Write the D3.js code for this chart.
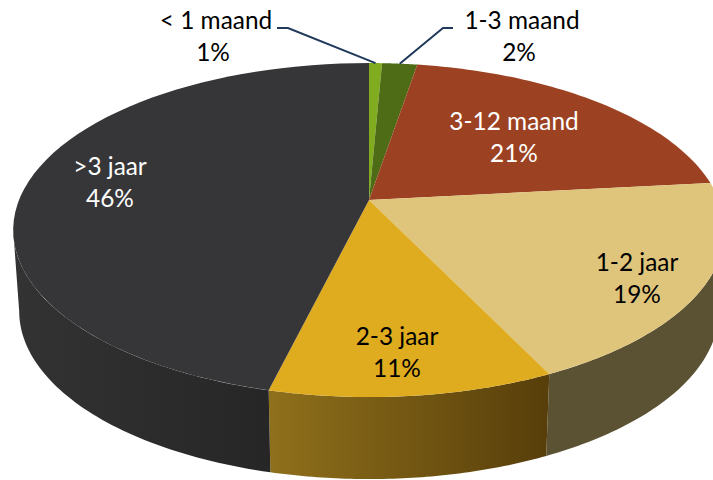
<!DOCTYPE html>
<html><head><meta charset="utf-8">
<script src="https://cdn.jsdelivr.net/npm/d3@7/dist/d3.min.js"></script>
<style>html,body{margin:0;padding:0;background:#fff;overflow:hidden}svg{display:block}</style>
</head><body><svg id="c" width="713" height="480"></svg>
<script>
const categories = ["< 1 maand","1-3 maand","3-12 maand","1-2 jaar","2-3 jaar",">3 jaar"];
const percentLabels = ["1%","2%","21%","19%","11%","46%"];
const values = [0.7,1.9,20.7,19.6,10.9,46.2];
const topColors = ["#82ac20","#4e6b15","#9c4222","#dfc57c","#dfab1f","#363638"];
const textColors = ["#000","#000","#fff","#000","#000","#fff"];
const labelCenters = [[216,21],[522,21],[514,122],[637,263],[397,337],[110,167]];

const svg = d3.select("#c");
const cx=369, cy=200, A=350, B=161.6, k=0.18;
const depthY=81, scaleBottom=350/356, midY=230;
function rim(t){const s=Math.sin(t),c=Math.cos(t),w=1+k*c;return [cx+A*s/w, cy-B*c/w];}
function low(t){const p=rim(t);return [cx+(p[0]-cx)*scaleBottom, midY+depthY+(p[1]-midY)*168/167];}
const sampled=(a,b)=>d3.range(0,61).map(i=>a+(b-a)*i/60);
const pie=d3.pie().sort(null).value(d=>d).startAngle(0).endAngle(2*Math.PI);
const arcs=pie(values);
const line=d3.line();
const thetaR=Math.PI-Math.acos(0.18), thetaL=Math.PI+Math.acos(0.18);

const defs=svg.append("defs");
function grad(id,x1,x2,c1,c2){const g=defs.append("linearGradient").attr("id",id).attr("gradientUnits","userSpaceOnUse")
  .attr("x1",x1).attr("x2",x2).attr("y1",0).attr("y2",0);
  g.append("stop").attr("offset",0).attr("stop-color",c1);g.append("stop").attr("offset",1).attr("stop-color",c2);}
grad("g4",rim(arcs[4].endAngle)[0],rim(arcs[4].startAngle)[0],"#8f701b","#573e0a");
grad("g5",13,270,"#333334","#262627");
const sideFill={3:"#5b5234",4:"url(#g4)",5:"url(#g5)"};

arcs.forEach((d,i)=>{
  const a=Math.max(d.startAngle,thetaR), b=Math.min(d.endAngle,thetaL);
  if(b<=a) return;
  const ts=sampled(a,b);
  const pts=ts.map(rim).concat(ts.slice().reverse().map(low));
  svg.append("path").attr("d",line(pts)+"Z").attr("fill",sideFill[i]);
});
arcs.forEach((d,i)=>{
  const pts=[[cx,cy]].concat(sampled(d.startAngle,d.endAngle).map(rim));
  svg.append("path").attr("d",line(pts)+"Z").attr("fill",topColors[i]);
});
// leader lines
const leaderColor="#1f3a5a";
[[[277,28],[288,28]],[[453,28],[443,28]]].forEach((seg,i)=>{
  const m=(arcs[i].startAngle+arcs[i].endAngle)/2;
  svg.append("path").attr("d",line([seg[0],seg[1],rim(m)])).attr("fill","none")
    .attr("stroke",leaderColor).attr("stroke-width",2);
});
categories.forEach((c,i)=>{
  const [x,y]=labelCenters[i];
  const t=svg.append("text").attr("text-anchor","middle").attr("font-family","Lato, Carlito, sans-serif")
    .attr("font-size",24.4).attr("fill",textColors[i]);
  t.append("tspan").attr("x",x).attr("y",y+8).text(c);
  t.append("tspan").attr("x",x-(i<2?3:0)).attr("y",y+40).text(percentLabels[i]);
});
</script></body></html>
